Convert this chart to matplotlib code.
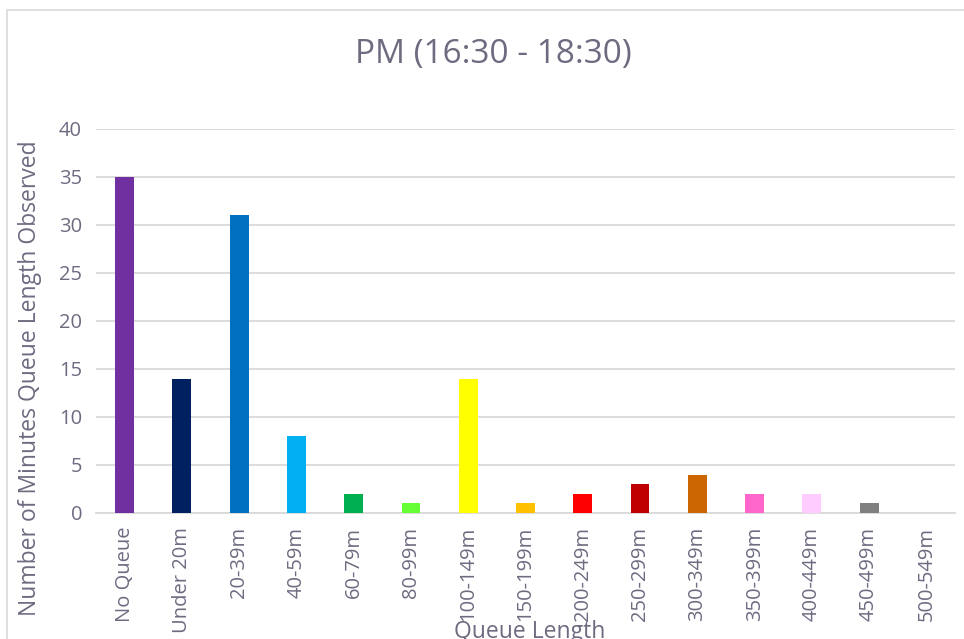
import matplotlib
matplotlib.use("Agg")
import matplotlib.pyplot as plt
from matplotlib.patches import Rectangle

categories = ["No Queue", "Under 20m", "20-39m", "40-59m", "60-79m", "80-99m",
              "100-149m", "150-199m", "200-249m", "250-299m", "300-349m",
              "350-399m", "400-449m", "450-499m", "500-549m"]
values = [35, 14, 31, 8, 2, 1, 14, 1, 2, 3, 4, 2, 2, 1, 0]
colors = ["#7030A0", "#002060", "#0070C0", "#00B0F0", "#00B050", "#66FF33",
          "#FFFF00", "#FFC000", "#FF0000", "#C00000", "#CC6600", "#FF66CC",
          "#FFCCFF", "#808080", "#808080"]
yticks = [0, 5, 10, 15, 20, 25, 30, 35, 40]

plt.rcParams['font.family'] = ['Open Sans', 'DejaVu Sans']
txt = "#6f6a80"
W, H = 964, 639
fig = plt.figure(figsize=(W/100, H/100), dpi=100)
ax = fig.add_axes([96/W, 1-513/H, (955-96)/W, (513-129)/H])

x = list(range(len(categories)))
ax.bar(x, values, width=0.33, color=colors, zorder=3)
ax.set_xlim(-0.5, len(categories)-0.5)
ax.set_ylim(0, 40)
ax.set_yticks(yticks)
ax.yaxis.grid(True, color="#D9D9D9", linewidth=1.3, zorder=0)
for s in ["top", "right", "left"]:
    ax.spines[s].set_visible(False)
ax.spines["bottom"].set_color("#D9D9D9")
ax.spines["bottom"].set_linewidth(1.3)
ax.tick_params(axis="both", length=0, colors=txt, labelsize=14.5)
ax.tick_params(axis="y", pad=10)
ax.tick_params(axis="x", pad=10)
ax.set_xticks(x)
ax.set_xticklabels(categories, rotation=90, ha="center", va="top")

fig.text(493/W, 1-55/H, "PM (16:30 - 18:30)", ha="center", va="center",
         fontsize=24, color=txt)
fig.text(30/W, 1-378/H, "Number of Minutes Queue Length Observed", rotation=90,
         ha="center", va="center", fontsize=16.5, color=txt)
fig.text(530/W, 1-632/H, "Queue Length", ha="center", va="center",
         fontsize=16.5, color=txt)

fig.patches.append(Rectangle((7/W, -0.1), 1.2, 1.1 - 10/H, transform=fig.transFigure,
                             fill=False, edgecolor="#D9D9D9", linewidth=1.2))
fig.savefig("out.png", dpi=100, facecolor="white")
